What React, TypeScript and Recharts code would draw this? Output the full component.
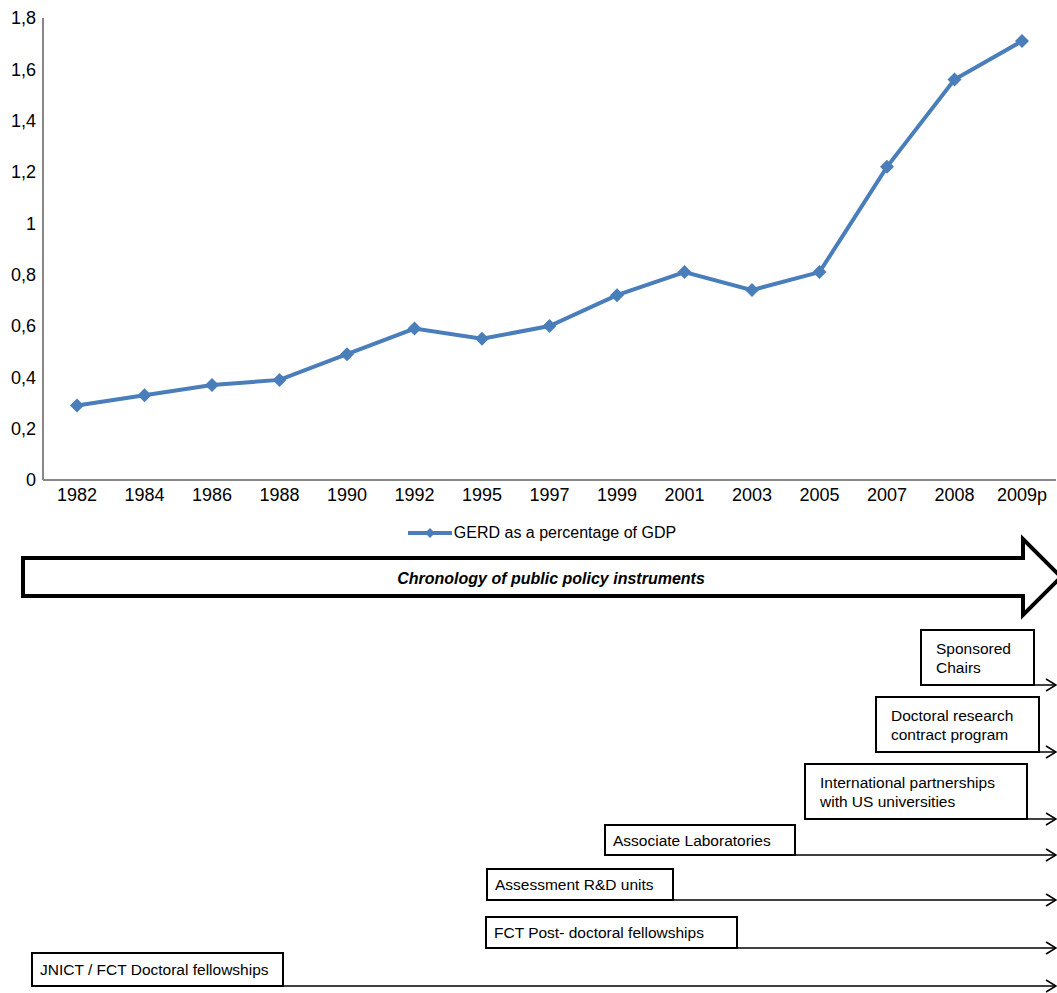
import React from "react";
import { LineChart, Line, XAxis, YAxis } from "recharts";

// GERD como % do PIB
const years = ["1982", "1984", "1986", "1988", "1990", "1992", "1995", "1997", "1999", "2001", "2003", "2005", "2007", "2008", "2009p"];
const gerd = [0.29, 0.33, 0.37, 0.39, 0.49, 0.59, 0.55, 0.6, 0.72, 0.81, 0.74, 0.81, 1.22, 1.56, 1.71];
const yTicks = [0, 0.2, 0.4, 0.6, 0.8, 1, 1.2, 1.4, 1.6, 1.8];
const seriesName = "GERD as a percentage of GDP";

// instrumentos de política (texto)
const instruments = [
  ["Sponsored", "Chairs"],
  ["Doctoral research", "contract program"],
  ["International partnerships", "with US universities"],
  ["Associate Laboratories"],
  ["Assessment R&D units"],
  ["FCT Post- doctoral fellowships"],
  ["JNICT / FCT Doctoral fellowships"],
];

// posição das caixas: x1, y1, x2, y2
const boxLayout = [
  [921, 630, 1034, 685],
  [876, 697, 1039, 752],
  [805, 764, 1027, 819],
  [605, 825, 795, 855],
  [487, 869, 673, 900],
  [486, 917, 737, 948],
  [32, 953, 283, 986],
];

const data = years.map((y, i) => ({ year: y, gerd: gerd[i] }));

const BLUE = "#4a7ebb";
const FONT = "'Liberation Sans', Arial, sans-serif";

const Diamond = (props: any) => {
  const { cx, cy } = props;
  if (cx == null || cy == null) return null;
  const r = 7;
  return <polygon points={`${cx},${cy - r} ${cx + r},${cy} ${cx},${cy + r} ${cx - r},${cy}`} fill={BLUE} />;
};

const LegendBox = () => (
  <div style={{ display: "flex", justifyContent: "center", alignItems: "center", paddingLeft: 27, fontFamily: FONT, fontSize: 16, color: "#000" }}>
    <svg width={46} height={14}>
      <line x1={0} y1={7} x2={44} y2={7} stroke={BLUE} strokeWidth={4} />
      <polygon points="22,2 27,7 22,12 17,7" fill={BLUE} />
    </svg>
    <span>{seriesName}</span>
  </div>
);

const Chronology = () => (
  <svg width={1057} height={993} style={{ position: "absolute", left: 0, top: 0, pointerEvents: "none" }} fontFamily={FONT}>
    {/* grande seta */}
    <polygon
      points="23,558 1023,558 1023,539 1061,577 1023,615 1023,596 23,596"
      fill="#fff"
      stroke="#000"
      strokeWidth={4}
    />
    <text x={551} y={578} textAnchor="middle" dominantBaseline="central" fontSize={16} fontWeight="bold" fontStyle="italic">
      Chronology of public policy instruments
    </text>
    {instruments.map((lines, i) => {
      const [x1, y1, x2, y2] = boxLayout[i];
      const h = y2 - y1;
      const lh = 19;
      const startY = y1 + h / 2 - ((lines.length - 1) * lh) / 2;
      return (
        <g key={i}>
          <line x1={x2} y1={y2} x2={1056} y2={y2} stroke="#000" strokeWidth={1.5} />
          <polyline points={`1046,${y2 - 6} 1056,${y2} 1046,${y2 + 6}`} fill="none" stroke="#000" strokeWidth={1.5} />
          <rect x={x1} y={y1} width={x2 - x1} height={h} fill="#fff" stroke="#000" strokeWidth={2} />
          {lines.map((t, j) => (
            <text key={j} x={x1 + (lines.length > 1 ? 15 : 8)} y={startY + j * lh} dominantBaseline="central" fontSize={15.5}>
              {t}
            </text>
          ))}
        </g>
      );
    })}
  </svg>
);

export default function App() {
  return (
    <div style={{ position: "relative", width: 1057, height: 993, background: "#fff", overflow: "hidden" }}>
      <style>{"body{margin:0}"}</style>
      <LineChart width={1057} height={993} data={data} margin={{ top: 18, right: 1, left: 0, bottom: 483 }}>
        <XAxis
          dataKey="year"
          height={30}
          padding={{ left: 34, right: 34 }}
          tickLine={false}
          tickSize={0}
          tickMargin={8}
          interval={0}
          stroke="#888"
          strokeWidth={2}
          tick={{ fill: "#000", fontSize: 18, fontFamily: FONT }}
        />
        <YAxis
          width={43}
          domain={[0, 1.8]}
          ticks={yTicks}
          tickLine={false}
          tickSize={0}
          tickMargin={7}
          stroke="#888"
          strokeWidth={2}
          tickFormatter={(v: number) => String(v).replace(".", ",")}
          tick={{ fill: "#000", fontSize: 18, fontFamily: FONT }}
        />
        <Line
          dataKey="gerd"
          name={seriesName}
          stroke={BLUE}
          strokeWidth={4}
          dot={<Diamond />}
          activeDot={false}
          isAnimationActive={false}
        />
      </LineChart>
      <div style={{ position: "absolute", left: 0, top: 524, width: 1057 }}>
        <LegendBox />
      </div>
      <Chronology />
    </div>
  );
}
